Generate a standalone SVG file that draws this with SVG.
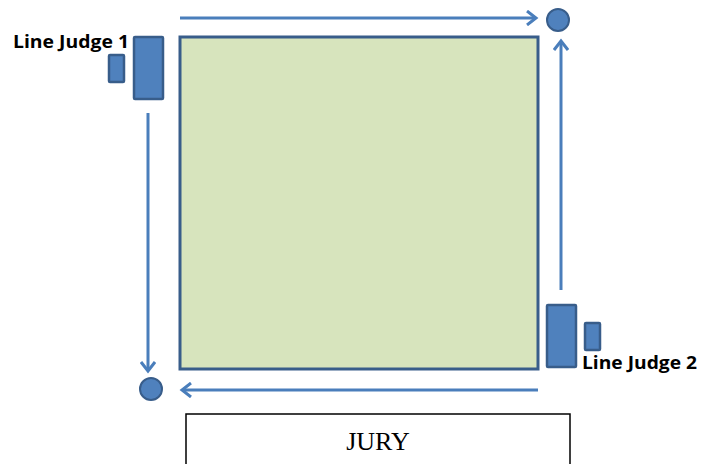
<svg xmlns="http://www.w3.org/2000/svg" width="701" height="464" viewBox="0 0 701 464">
<style>
.arrow{stroke:#4a7ebb;stroke-width:3;fill:none;marker-end:url(#chev)}
.judge{fill:#4f81bd;stroke:#385d8a;stroke-width:2.5}
.dot{fill:#4f81bd;stroke:#385d8a;stroke-width:2}
.lbl{font-family:"Open Sans","Liberation Sans",sans-serif;font-weight:bold;font-size:18px;fill:#000}
</style>
<defs>
<marker id="chev" markerWidth="14" markerHeight="16" refX="11" refY="8" orient="auto" markerUnits="userSpaceOnUse">
<path d="M2,1 L11,8 L2,15" fill="none" stroke="#4a7ebb" stroke-width="3"/>
</marker>
</defs>
<rect width="701" height="464" fill="#fff"/>
<g id="court">
<rect x="180" y="37" width="358" height="332" fill="#d7e4bd" stroke="#385d8a" stroke-width="3"/>
</g>
<g id="connectors">
<line class="arrow" x1="180" y1="18" x2="536" y2="18"/>
<line class="arrow" x1="561" y1="290" x2="561" y2="41"/>
<line class="arrow" x1="538" y1="390" x2="182" y2="390"/>
<line class="arrow" x1="148" y1="113" x2="148" y2="371"/>
</g>
<g id="corner-top-right">
<circle class="dot" cx="558" cy="20" r="11"/>
</g>
<g id="corner-bottom-left">
<circle class="dot" cx="151" cy="389" r="11"/>
</g>
<g id="line-judge-1">
<rect class="judge" x="134" y="37" width="29" height="62" rx="1"/>
<rect class="judge" x="109" y="55" width="15" height="27" rx="1"/>
<text class="lbl" x="13" y="48" textLength="116" lengthAdjust="spacingAndGlyphs">Line Judge 1</text>
</g>
<g id="line-judge-2">
<rect class="judge" x="547" y="305" width="29" height="62" rx="1"/>
<rect class="judge" x="585" y="323" width="15" height="27" rx="1"/>
<text class="lbl" x="582" y="369" textLength="115" lengthAdjust="spacingAndGlyphs">Line Judge 2</text>
</g>
<g id="jury">
<rect x="186" y="414" width="384" height="60" fill="#fff" stroke="#000" stroke-width="1.5"/>
<text x="378" y="450" text-anchor="middle" font-family="'Liberation Serif',serif" font-size="26">JURY</text>
</g>
</svg>
